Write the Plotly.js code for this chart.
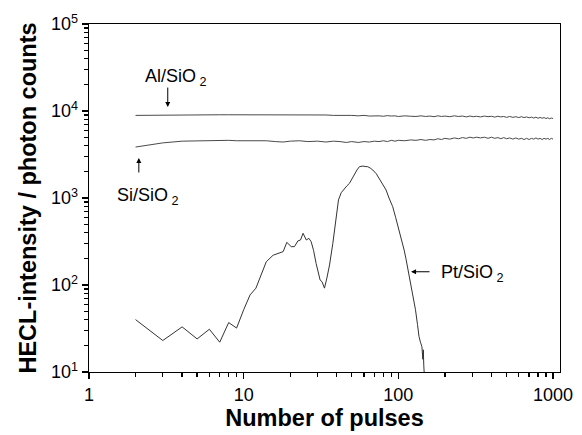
<!DOCTYPE html>
<html>
<head>
<meta charset="utf-8">
<script src="https://cdn.plot.ly/plotly-3.0.1.min.js"></script>
<style>html,body{margin:0;padding:0;background:#fff;}#chart{width:582px;height:435px;}</style>
</head>
<body>
<div id="chart"></div>
<script>
// ---- data ----
var pulsesFlat = [2,3,4,5,6,7,8,9,10,12,14,16,18,20,23,26,30,34,38,42,46,50,55,60,65,70,75,80,85,90,95,100,110,120,130,140,150,160,170,180,190,200,215,230,245,260,275,290,305,320,340,360,380,400,420,440,460,480,500,525,550,575,600,625,650,675,700,725,750,775,800,825,850,875,900,925,950,975,1000];
var alSiO2 = [8900,9000,9050,9050,9050,9050,9050,9050,9050,
  9050,9100,9050,9050,9000,
  9050,9000,8950,9000,8900,8950,8850,8900,
  8800,8900,8750,8850,8800,8700,8850,8750,8800,8650,
  8800,8700,8650,8800,8650,8750,8600,8800,8650,8750,
  8600,8800,8650,8750,8550,8750,8600,
  8700,8550,8750,8600,8700,8500,8700,8550,8650,8450,
  8650,8450,8600,8400,8600,8400,8550,8350,8500,8300,8500,8250,8450,8250,8400,8200,8350,8150,8300,8200];
var siSiO2 = [3850,4300,4500,4550,4550,4550,4600,4550,4550,
  4500,4550,4450,4400,4500,
  4550,4450,4500,4400,4500,4450,4350,4450,
  4350,4450,4400,4500,4450,4550,4450,4600,4500,4600,
  4550,4650,4600,4700,4600,4700,4650,4800,4700,4850,
  4750,4900,4800,4950,4850,5000,4900,
  5000,4900,5000,4850,5000,4850,4950,4800,4950,4800,
  4900,4750,4900,4750,4850,4700,4850,4700,4850,4750,4900,4750,4850,4700,4850,4750,4850,4700,4850,4750];
var pulsesPt = [2,3,4,5,6,7,8,9,10,11,12,13,14,15.5,17,18,19,20.3,21.3,22.4,23.3,24.2,25.4,26.4,27.3,28.3,29.4,31.2,32.1,33.3,34.5,35.9,37.7,39.6,41,42.7,44.8,46.5,48.3,50,52,54,56,58.9,61,63.4,66,68.3,72,75.3,79,83.3,87,91.9,96,101,105,109,112,115,118,121,125,129,133,136,139,142,144,145,146,147];
var ptSiO2 = [40,23,33,24,31,22,37,32,52,77,92,130,185,220,231,242,309,276,276,321,329,393,329,344,315,250,177,114,109,92,120,170,301,640,950,1150,1290,1380,1475,1650,1920,2100,2290,2330,2300,2290,2200,2100,1900,1680,1450,1236,1000,795,600,429,330,252,200,156,125,95,70,52,35,25.5,22,19.5,14,18,12,9.5];
var xDecades = [1,10,100,1000];
var xDecadeText = ['1','10','100','1000'];
var yDecades = [10,100,1000,10000,100000];
var yDecadeText = ['10<sup>1</sup>','10<sup>2</sup>','10<sup>3</sup>','10<sup>4</sup>','10<sup>5</sup>'];
var labels = {al:'Al/SiO<sub> 2</sub>', si:'Si/SiO<sub> 2</sub>', pt:'Pt/SiO<sub> 2</sub>'};

var FONT = 'Liberation Sans, Arial, Helvetica, sans-serif';
var lineStyle = function(c){ return {color:c, width:1}; };
var traces = [
  {x:pulsesFlat, y:alSiO2, type:'scatter', mode:'lines', line:lineStyle('#4a4a4a'), hoverinfo:'skip'},
  {x:pulsesFlat, y:siSiO2, type:'scatter', mode:'lines', line:lineStyle('#4a4a4a'), hoverinfo:'skip'},
  {x:pulsesPt, y:ptSiO2, type:'scatter', mode:'lines', line:lineStyle('#333333'), hoverinfo:'skip'}
];

var axisCommon = {
  type:'log', showline:true, linecolor:'#000', linewidth:1.3, mirror:true,
  ticks:'outside', ticklen:6, tickwidth:1.3, tickcolor:'#000',
  minor:{ticks:'outside', ticklen:4, tickwidth:1.3, tickcolor:'#000', dtick:'D1', showgrid:false},
  showgrid:false, zeroline:false, automargin:false, tickangle:0,
  tickfont:{family:FONT, size:18, color:'#000'}
};
var layout = {
  width:582, height:435,
  margin:{l:89, r:22, t:24, b:63},
  paper_bgcolor:'#fff', plot_bgcolor:'#fff',
  showlegend:false,
  font:{family:FONT, color:'#000'},
  xaxis:Object.assign({}, axisCommon, {
    range:[0, 3.045], tickmode:'array', tickvals:xDecades, ticktext:xDecadeText,
    title:{text:'Number of pulses', font:{family:FONT, size:23.5, weight:'bold', color:'#000'}, standoff:5}
  }),
  yaxis:Object.assign({}, axisCommon, {
    range:[1, 5], tickmode:'array', tickvals:yDecades, ticktext:yDecadeText,
    title:{text:'HECL-intensity / photon counts', font:{family:FONT, size:23.5, weight:'bold', color:'#000'}, standoff:7}
  }),
  annotations:[
    {xref:'x', yref:'y', x:Math.log10(3.23), y:Math.log10(11100), ax:0, ay:-21, text:'', showarrow:true, arrowhead:2, arrowsize:1, arrowwidth:1, arrowcolor:'#000'},
    {xref:'x', yref:'y', x:Math.log10(3.23), y:Math.log10(11100), text:labels.al, showarrow:false, font:{family:FONT, size:18, color:'#000'}, xshift:8, yshift:30},
    {xref:'x', yref:'y', x:Math.log10(2.1), y:Math.log10(2880), ax:0, ay:16, text:'', showarrow:true, arrowhead:2, arrowsize:1, arrowwidth:1, arrowcolor:'#000'},
    {xref:'x', yref:'y', x:Math.log10(2.1), y:Math.log10(2880), text:labels.si, showarrow:false, font:{family:FONT, size:18, color:'#000'}, xshift:9, yshift:-38},
    {xref:'x', yref:'y', x:Math.log10(120.8), y:Math.log10(142), ax:20, ay:0, text:'', showarrow:true, arrowhead:2, arrowsize:1, arrowwidth:1, arrowcolor:'#000'},
    {xref:'x', yref:'y', x:Math.log10(120.8), y:Math.log10(142), text:labels.pt, showarrow:false, xanchor:'left', font:{family:FONT, size:18, color:'#000'}, xshift:28, yshift:-2}
  ]
};
Plotly.newPlot('chart', traces, layout, {displayModeBar:false, staticPlot:true});
</script>
</body>
</html>
